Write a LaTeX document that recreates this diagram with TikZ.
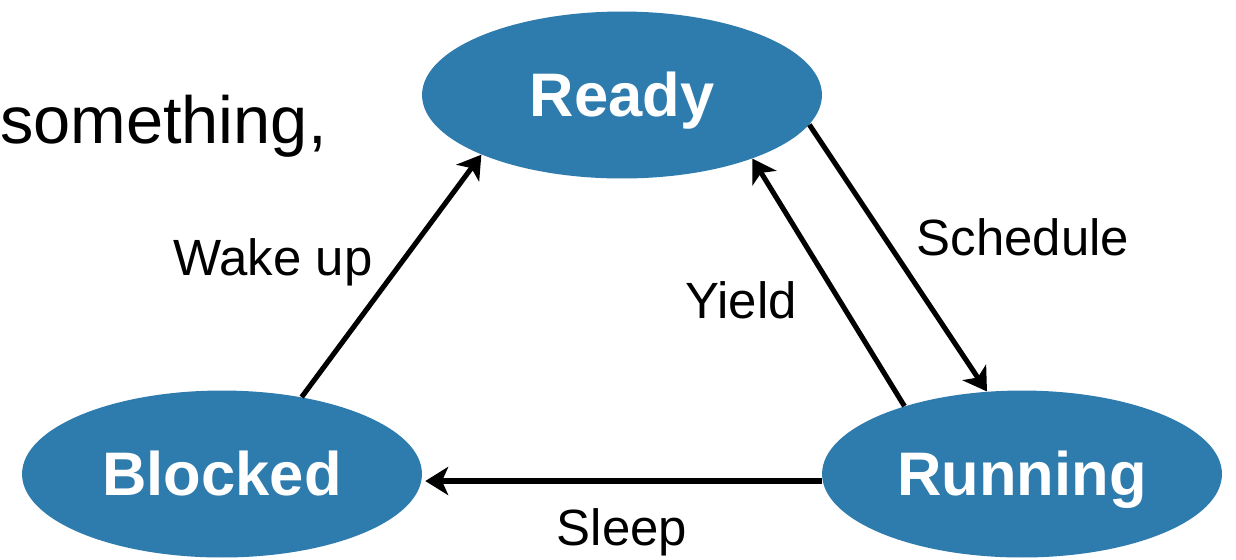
\documentclass[tikz,border=0pt]{standalone}
\usepackage{fontspec}
\setmainfont{Liberation Sans}
\usetikzlibrary{shapes.geometric,arrows.meta}
\definecolor{stateblue}{RGB}{46,123,173}
\tikzset{
  state/.style={ellipse, fill=stateblue, draw=none, minimum width=8cm, minimum height=3.34cm,
    inner sep=0pt, text height=25pt, text depth=0pt, text=white, font=\fontsize{35}{40}\selectfont\bfseries},
  trans/.style={line width=2.9pt, -{Stealth[length=13pt,width=16pt,inset=3.5pt]}},
  lbl/.style={anchor=base, font=\fontsize{29}{34}\selectfont, text=black, inner sep=0pt}
}
\begin{document}
\begin{tikzpicture}[x=0.02cm,y=-0.02cm]
\useasboundingbox (0,0) rectangle (1236,559);
\node[anchor=base east, inner sep=0pt, font=\fontsize{38}{44}\selectfont] (txt) at (327,143) {something,};
\node[state] (ready) at (622,95) {Ready};
\node[state] (blocked) at (222,474) {Blocked};
\node[state] (running) at (1022,474) {Running};
\draw[trans] (blocked.44) -- (ready.203);
\draw[trans] (running.150) -- (ready.334);
\draw[trans] (ready.351) -- (running.113);
\draw[trans] ([yshift=-0.14cm]running.west) -- ([yshift=-0.14cm,xshift=0.06cm]blocked.east);
\node[lbl] (lwake) at (273,275) {Wake up};
\node[lbl] (lyield) at (741,318) {Yield};
\node[lbl] (lsched) at (1023,255) {Schedule};
\node[lbl] (lsleep) at (622,545) {Sleep};
\end{tikzpicture}
\end{document}
